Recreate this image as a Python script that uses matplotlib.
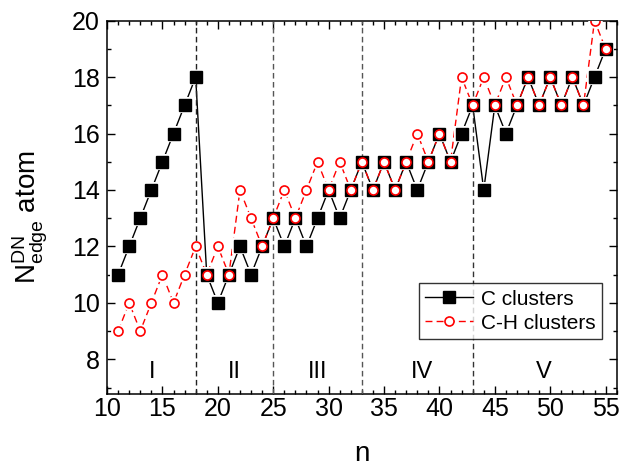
import matplotlib
matplotlib.use("Agg")
import matplotlib.pyplot as plt
from matplotlib.ticker import MultipleLocator

plt.rcParams['font.family'] = ['Liberation Sans', 'DejaVu Sans']
plt.rcParams['mathtext.fontset'] = 'custom'
plt.rcParams['mathtext.rm'] = 'Liberation Sans'
plt.rcParams['mathtext.it'] = 'Liberation Sans'

n = list(range(11, 56))
c_clusters = [11, 12, 13, 14, 15, 16, 17, 18, 11, 10, 11, 12, 11, 12, 13,
              12, 13, 12, 13, 14, 13, 14, 15, 14, 15, 14, 15, 14, 15, 16,
              15, 16, 17, 14, 17, 16, 17, 18, 17, 18, 17, 18, 17, 18, 19]
ch_clusters = [9, 10, 9, 10, 11, 10, 11, 12, 11, 12, 11, 14, 13, 12, 13,
               14, 13, 14, 15, 14, 15, 14, 15, 14, 15, 14, 15, 16, 15, 16,
               15, 18, 17, 18, 17, 18, 17, 18, 17, 18, 17, 18, 17, 20, 19]
boundaries = [18, 25, 33, 43]
boundary_colors = ['#222222', '#555555', '#555555', '#333333']
region_labels = ['I', 'II', 'III', 'IV', 'V']
region_x = [14.1, 21.5, 29.0, 38.4, 49.4]

fig = plt.figure(figsize=(6.19, 4.66), dpi=100)
ax = fig.add_axes([0.1729, 0.1539, 0.8234, 0.8017])

# lines
ax.plot(n, c_clusters, color='black', ls='-', lw=1.0, zorder=2)
ax.plot(n, ch_clusters, color='red', ls=(0, (5, 3)), lw=1.0, zorder=2)
# white halos around markers (gaps in lines)
ax.plot(n, c_clusters, ls='none', marker='s', ms=12, mfc='white', mew=0, zorder=3)
ax.plot(n, ch_clusters, ls='none', marker='o', ms=10.5, mfc='white', mew=0, zorder=3)

for b, col in zip(boundaries, boundary_colors):
    ax.axvline(b, color=col, ls=(0, (4, 2.5)), lw=1.0, zorder=3.5)

ax.plot(n, c_clusters, ls='none', marker='s', ms=8, mfc='black', mec='black',
        zorder=4)
ax.plot(n, ch_clusters, ls='none', marker='o', ms=6.5, mfc='white', mec='red',
        mew=1.2, zorder=5)

# legend proxies
ax.plot([], [], color='black', ls='-', lw=1.0, marker='s', ms=8, mfc='black',
        mec='black', label='C clusters')
ax.plot([], [], color='red', ls=(0, (5, 3)), lw=1.0, marker='o', ms=6.5,
        mfc='white', mec='red', mew=1.2, label='C-H clusters')

for lab, xx in zip(region_labels, region_x):
    ax.text(xx, 7.55, lab, ha='center', va='center', fontsize=17)

ax.set_xlim(10, 56)
ax.set_ylim(6.76, 20)
ax.xaxis.set_major_locator(MultipleLocator(5))
ax.xaxis.set_minor_locator(MultipleLocator(1))
ax.yaxis.set_major_locator(MultipleLocator(2))
ax.yaxis.set_minor_locator(MultipleLocator(1))
ax.tick_params(which='both', direction='in', top=True, right=True, width=1.0)
ax.tick_params(which='major', length=5.5, labelsize=18)
ax.tick_params(which='minor', length=3)
ax.tick_params(axis='x', which='major', pad=2)
ax.tick_params(axis='y', which='major', pad=5)
for s in ax.spines.values():
    s.set_linewidth(1.1)

ax.set_xlabel('n', fontsize=20)
ax.xaxis.label.set_va('baseline')
ax.xaxis.set_label_coords(0.5, -0.178)
ax.set_ylabel(r'$\mathregular{N^{DN}_{edge}}$ atom', fontsize=20)
ax.yaxis.label.set_va('center')
ax.yaxis.set_label_coords(-0.15, 0.474)

leg = ax.legend(loc='lower right', bbox_to_anchor=(0.971, 0.148), fontsize=15,
                frameon=True, fancybox=False, edgecolor='black',
                handlelength=2.3, borderpad=0.3, labelspacing=0.25,
                handletextpad=0.4, borderaxespad=0)
leg.get_frame().set_linewidth(1.0)

fig.savefig('out.png', dpi=100)
